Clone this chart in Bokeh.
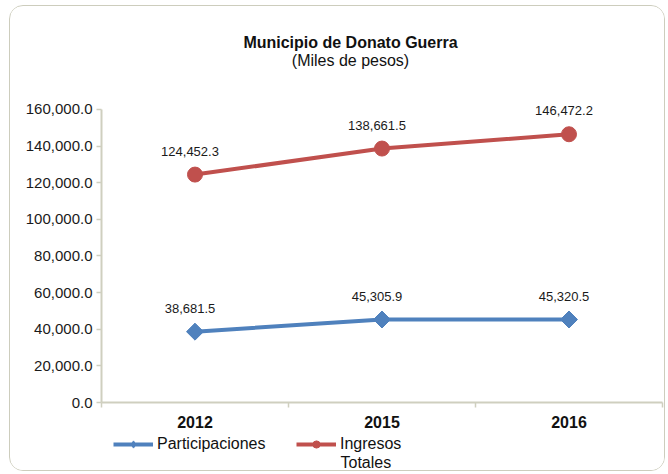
import math
from bokeh.plotting import figure
from bokeh.layouts import column
from bokeh.models import (Range1d, FixedTicker, NumeralTickFormatter, LinearAxis,
                          Legend, LegendItem, Label, ColumnDataSource)
from bokeh.core.properties import value
from bokeh.embed import file_html
from bokeh.resources import INLINE

years = ["2012", "2015", "2016"]
participaciones = [38681.5, 45305.9, 45320.5]
ingresos_totales = [124452.3, 138661.5, 146472.2]
y_ticks = [0, 20000, 40000, 60000, 80000, 100000, 120000, 140000, 160000]
series_names = ["Participaciones", "Ingresos\nTotales"]
title_text = "Municipio de Donato Guerra"
subtitle_text = "(Miles de pesos)"

BLUE = "#4F81BD"
RED = "#C0504D"
AXIS = "#CFCFBF"
FONT = "Liberation Sans"
W = 654

xs = [i + 0.5 for i in range(len(years))]
fmt = lambda v: f"{v:,.1f}"

src_p = ColumnDataSource(dict(x=xs, y=participaciones, t=[fmt(v) for v in participaciones]))
src_i = ColumnDataSource(dict(x=xs, y=ingresos_totales, t=[fmt(v) for v in ingresos_totales]))

def bare(h):
    f = figure(width=W, height=h, output_backend="svg", toolbar_location=None,
               x_range=Range1d(0, 1), y_range=Range1d(0, 1),
               min_border=0, x_axis_location=None, y_axis_location=None)
    f.outline_line_color = None
    f.grid.visible = False
    return f

# ---- title figure (frame is aligned with the main frame by the column)
pt = bare(76)
pt.add_layout(Label(x=249, y=40, x_units="screen", y_units="screen", text=title_text,
                    text_align="center", text_baseline="middle",
                    text_font=FONT, text_font_size="16px", text_font_style="bold",
                    text_color="#111111"))
pt.add_layout(Label(x=249, y=22, x_units="screen", y_units="screen", text=subtitle_text,
                    text_align="center", text_baseline="middle",
                    text_font=FONT, text_font_size="16px", text_color="#111111"))

# ---- main figure
p = figure(width=W, height=350, output_backend="svg", toolbar_location=None,
           x_range=Range1d(0, len(years)), y_range=Range1d(y_ticks[0], 172000),
           min_border_left=91, min_border_right=2, min_border_top=5, min_border_bottom=30,
           x_axis_location=None)
p.outline_line_color = None
p.grid.visible = False

ya = p.yaxis[0]
ya.ticker = FixedTicker(ticks=y_ticks)
ya.bounds = (y_ticks[0], y_ticks[-1])
ya.formatter = NumeralTickFormatter(format="0,0.0")
ya.axis_line_color = AXIS
ya.axis_line_width = 2
ya.major_tick_line_color = AXIS
ya.major_tick_line_width = 1.5
ya.major_tick_in = 0
ya.major_tick_out = 5
ya.minor_tick_line_color = None
ya.major_label_text_font = FONT
ya.major_label_text_font_size = "15px"
ya.major_label_text_color = "#1a1a1a"
ya.major_label_standoff = 4

bticks = list(range(len(years) + 1))
xa_ticks = LinearAxis(ticker=FixedTicker(ticks=bticks),
                      major_label_overrides={t: "" for t in bticks},
                      axis_line_color=AXIS, axis_line_width=2,
                      major_tick_line_color=AXIS, major_tick_line_width=1.5,
                      major_tick_in=0, major_tick_out=5, minor_tick_line_color=None,
                      major_label_text_font_size="1px", major_label_standoff=0)
p.add_layout(xa_ticks, "below")
xa_lab = LinearAxis(ticker=FixedTicker(ticks=xs),
                    major_label_overrides={x: y for x, y in zip(xs, years)},
                    axis_line_color=None, major_tick_line_color=None, minor_tick_line_color=None,
                    major_label_text_font=FONT, major_label_text_font_size="16px",
                    major_label_text_font_style="bold", major_label_text_color="#111111",
                    major_label_standoff=2)
p.add_layout(xa_lab, "below")

p.line("x", "y", source=src_p, color=BLUE, line_width=4)
p.scatter("x", "y", source=src_p, marker="square", angle=math.pi / 4, size=12, color=BLUE)
p.line("x", "y", source=src_i, color=RED, line_width=4)
p.scatter("x", "y", source=src_i, marker="circle", size=15, color=RED)

for src in (src_p, src_i):
    p.text("x", "y", text="t", source=src, text_align="center", text_baseline="bottom",
           y_offset=-19, x_offset=-5, text_font=value(FONT), text_font_size="13px",
           text_color="#1a1a1a")

# ---- legend figure (legend renderers hold points outside the visible range)
pl = bare(38)
lp = pl.line(x=[-5, -4], y=[-5, -5], color=BLUE, line_width=4)
sp = pl.scatter(x=[-5], y=[-5], marker="diamond", size=13, color=BLUE)
li = pl.line(x=[-5, -4], y=[-5, -5], color=RED, line_width=4)
si = pl.scatter(x=[-5], y=[-5], marker="circle", size=12, color=RED)

name2 = series_names[1].split("\n")
leg_kw = dict(orientation="horizontal", label_text_font=FONT, label_text_font_size="16px",
              label_text_color="#111111", label_height=18, glyph_width=40, glyph_height=18,
              label_standoff=4, spacing=0, padding=0, margin=0,
              border_line_color=None, background_fill_alpha=0)
pl.add_layout(Legend(items=[LegendItem(label=series_names[0], renderers=[lp, sp])],
                     location=(12, 17), **leg_kw), "center")
pl.add_layout(Legend(items=[LegendItem(label=name2[0], renderers=[li, si])],
                     location=(195, 17), **leg_kw), "center")
pl.add_layout(Label(x=239, y=8, x_units="screen", y_units="screen", text=name2[1],
                    text_align="left", text_baseline="middle", text_font=FONT,
                    text_font_size="16px", text_color="#111111"))

layout = column(pt, p, pl, spacing=0)
layout.styles = {"border": "1.5px solid #CDCDBD", "border-radius": "14px",
                 "margin-left": "9px", "margin-top": "5px", "overflow": "hidden"}

open("out.html", "w").write(file_html(layout, INLINE))
